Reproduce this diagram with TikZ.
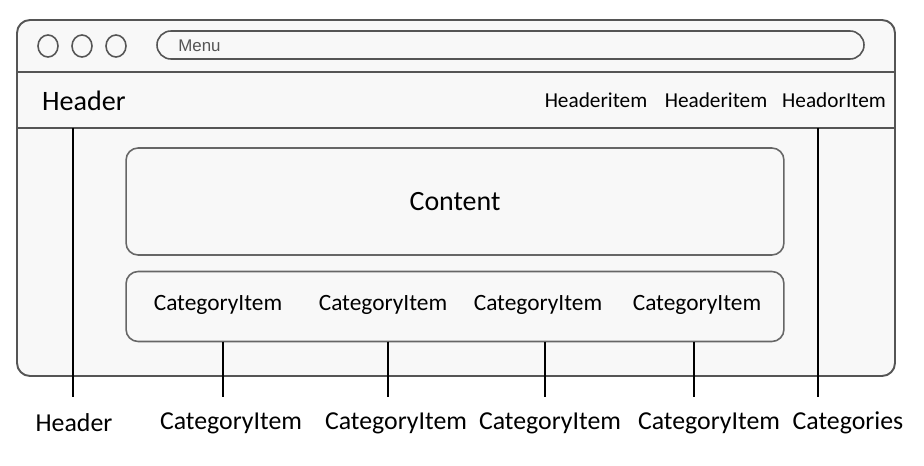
\documentclass[tikz,border=0pt]{standalone}
\usepackage{fontspec}
\setmainfont{Carlito}
\newfontfamily\menufont{Liberation Sans}
\usepackage{xcolor}
\usetikzlibrary{positioning}
\definecolor{edge}{HTML}{555555}
\definecolor{paper}{HTML}{F8F8F8}
\tikzstyle{frame}=[draw=edge, line width=1.1pt]
\tikzstyle{panel}=[draw=edge!90, line width=0.9pt, rounded corners=0.24cm, minimum width=13.16cm]
\tikzstyle{item}=[inner sep=1pt]
\tikzstyle{lbl}=[inner sep=1pt, font=\fontsize{14.7}{17}\selectfont]
\tikzstyle{lead}=[draw=black, line width=0.8pt]

\begin{document}
\begin{tikzpicture}[x=0.02cm,y=-0.02cm]
\useasboundingbox (0,0) rectangle (924,466);
% browser window
\draw[frame, fill=paper, rounded corners=0.26cm] (17,20) rectangle (895,376);
\draw[frame] (17,72) -- (895,72);
\draw[frame] (17,128) -- (895,128);
\foreach \x in {48,82,116}
  \draw[frame, line width=0.9pt] (\x,46) ellipse [x radius=0.2cm, y radius=0.22cm];
\draw[frame, line width=0.9pt, rounded corners=0.28cm] (157,31) rectangle (864,59);
\node[anchor=west, inner sep=0pt, text=edge, font=\menufont\fontsize{9.6}{11}\selectfont] (menu) at (178,46) {Menu};
% header bar
\node[anchor=west, item, font=\fontsize{16}{19}\selectfont] (hdr) at (40,101) {Header};
\node[item, font=\fontsize{12.1}{14}\selectfont] (hi1) at (596,100) {Headeritem};
\node[item, font=\fontsize{12.1}{14}\selectfont] (hi2) at (716,100) {Headeritem};
\node[item, font=\fontsize{12.1}{14}\selectfont] (hi3) at (834,100) {HeadorItem};
% content and categories
\node[panel, minimum height=2.14cm, font=\fontsize{15.9}{19}\selectfont] (content) at (455,201.5) {Content};
\node[panel, minimum height=1.4cm] (cats) at (455,306.5) {};
\node[item, font=\fontsize{13.3}{16}\selectfont] (ci1) at (218,305) {CategoryItem};
\node[item, font=\fontsize{13.3}{16}\selectfont] (ci2) at (383,305) {CategoryItem};
\node[item, font=\fontsize{13.3}{16}\selectfont] (ci3) at (538,305) {CategoryItem};
\node[item, font=\fontsize{13.3}{16}\selectfont] (ci4) at (697,305) {CategoryItem};
% labels below
\node[lbl] (lhdr) at (74,423) {Header};
\node[lbl] (lci1) at (231,423) {CategoryItem};
\node[lbl] (lci2) at (396,423) {CategoryItem};
\node[lbl] (lci3) at (550,423) {CategoryItem};
\node[lbl] (lci4) at (709,423) {CategoryItem};
\node[lbl] (lcats) at (848,423) {Categories};
% leader lines
\coordinate (thdr) at (73,128);
\coordinate (bhdr) at (73,397);
\coordinate (tcats) at (818,128);
\coordinate (bcats) at (818,397);
\draw[lead] (thdr) -- (bhdr);
\draw[lead] (tcats) -- (bcats);
\foreach \x/\n in {223/1,388/2,545/3,694/4} {
  \coordinate (t\n) at (\x,341.5);
  \coordinate (b\n) at (\x,397);
  \draw[lead] (t\n) -- (b\n);
}
\end{tikzpicture}
\end{document}
